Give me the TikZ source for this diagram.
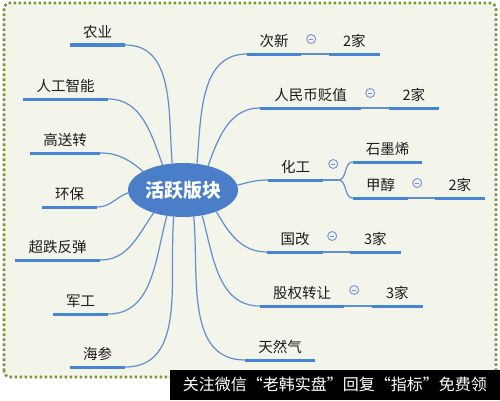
\documentclass[tikz,border=0pt]{standalone}
\usepackage{fontspec}
\setmainfont{Noto Sans CJK SC}
\usepackage{tikz}
\usetikzlibrary{
  positioning,
  calc,
  shapes.geometric
}
\definecolor{HubBlue}{RGB}{74,126,200}
\definecolor{BarBlue}{RGB}{70,132,214}
\definecolor{LinkBlue}{RGB}{96,142,208}
\definecolor{PaperBg}{RGB}{243,244,234}
\definecolor{FrameGreen}{RGB}{122,150,56}
\definecolor{IconBlue}{RGB}{122,150,200}
\definecolor{IconFill}{RGB}{236,240,247}
\definecolor{LabelInk}{RGB}{28,28,28}
\newcommand\lblfont{\fontsize{14.5}{16}\selectfont}
\tikzset{
  hubnode/.style={ellipse,fill=HubBlue,minimum width=110pt,minimum height=54pt,inner sep=0pt,text=white,font=\fontsize{19}{20}\selectfont\bfseries},
  bar/.style={draw=BarBlue,line width=3pt},
  topic/.style={minimum width=#1,minimum height=26pt,inner sep=0pt,anchor=south,text=LabelInk,font=\lblfont,
    append after command={(\tikzlastnode.south west) edge[bar] (\tikzlastnode.south east)}},
  link/.style={draw=LinkBlue,line width=1.2pt},
  foldicon/.style={circle,draw=IconBlue,fill=IconFill,line width=0.9pt,minimum size=9pt,inner sep=0pt,
    path picture={\draw[IconBlue,line width=0.9pt] ([xshift=-2.2pt]path picture bounding box.center) -- ([xshift=2.2pt]path picture bounding box.center);}},
  paperframe/.style={draw=FrameGreen,fill=PaperBg,line width=2.6pt,dash pattern=on 2.6pt off 2.4pt,rounded corners=6pt},
  stamp/.style={fill=black,text=white,minimum width=330pt,minimum height=30pt,inner sep=0pt,font=\fontsize{16}{16}\selectfont}
}
\begin{document}
\begin{tikzpicture}[x=1pt,y=1pt]
\useasboundingbox (0,0) rectangle (500,400);
\fill[white] (0,0) rectangle (500,400);
\draw[paperframe] (4,23) rectangle (496,397);
% centre
\node[hubnode] (hub) at (183,210) {活跃版块};
% left side
\node[topic=55pt] (ny) at (97.5,355) {农业};
\node[topic=85pt] (rg) at (65.5,301) {人工智能};
\node[topic=70pt] (gs) at (65,247) {高送转};
\node[topic=55pt] (hb) at (69.5,193) {环保};
\node[topic=85pt] (cd) at (57.5,140) {超跌反弹};
\node[topic=55pt] (jg) at (80.5,86) {军工};
\node[topic=55pt] (hs) at (97.5,33) {海参};
\draw[link] (hub.112) to[out=95,in=0] (ny.south east);
\draw[link] (hub.129) to[out=110,in=0] (rg.south east);
\draw[link] (hub.155) to[out=140,in=0] (gs.south east);
\draw[link] (hub.183) to[out=200,in=0] (hb.south east);
\draw[link] (hub.218) to[out=235,in=0] (cd.south east);
\draw[link] (hub.238) to[out=255,in=0] (jg.south east);
\draw[link] (hub.251) to[out=265,in=0] (hs.south east);
% right side
\node[topic=54pt] (cx) at (274,346) {次新};
\node[topic=50pt, right=28pt of cx] (cxn) {2家};
\node[topic=101pt] (rmb) at (310.5,292) {人民币贬值};
\node[topic=49pt, right=28pt of rmb] (rmbn) {2家};
\node[topic=55pt] (hg) at (295.5,220) {化工};
\node[topic=69pt] (sm) at (387.5,238) {石墨烯};
\node[topic=55pt] (jc) at (380.5,202) {甲醇};
\node[topic=49pt, right=27pt of jc] (jcn) {2家};
\node[topic=56pt] (gg) at (295,148) {国改};
\node[topic=50pt, right=27pt of gg] (ggn) {3家};
\node[topic=84pt] (gq) at (302,94) {股权转让};
\node[topic=50pt, right=28pt of gq] (gqn) {3家};
\node[topic=70pt] (tr) at (280,40) {天然气};
\node[foldicon] (cxf) at ($(cx.south east)+(10,15)$) {};
\node[foldicon] (rmbf) at ($(rmb.south east)+(9,15)$) {};
\node[foldicon] (hgf) at ($(hg.south east)+(10,16)$) {};
\node[foldicon] (jcf) at ($(jc.south east)+(9,15)$) {};
\node[foldicon] (ggf) at ($(gg.south east)+(9,16)$) {};
\node[foldicon] (gqf) at ($(gq.south east)+(10,16)$) {};
\draw[link] (hub.62) to[out=85,in=180] (cx.south west);
\draw[link] (hub.44) to[out=70,in=180] (rmb.south west);
\draw[link] (hub.5) to[out=15,in=180] (hg.south west);
\draw[link] (hub.327) to[out=300,in=180] (gg.south west);
\draw[link] (hub.307) to[out=285,in=180] (gq.south west);
\draw[link] (hub.292) to[out=275,in=180] (tr.south west);
\draw[link] (cx.south east) -- (cxn.south west);
\draw[link] (rmb.south east) -- (rmbn.south west);
\draw[link] (jc.south east) -- (jcn.south west);
\draw[link] (gg.south east) -- (ggn.south west);
\draw[link] (gq.south east) -- (gqn.south west);
% fork under 化工
\coordinate (fk) at ($(hg.south east)+(15,0)$);
\draw[link] (hg.south east) -- (fk);
\draw[link] (fk) to[out=0,in=180] (sm.south west);
\draw[link] (fk) to[out=0,in=180] (jc.south west);
% watermark
\node[stamp, anchor=south east] (wm) at (500,0) {关注微信“老韩实盘”回复“指标”免费领};
\end{tikzpicture}
\end{document}
